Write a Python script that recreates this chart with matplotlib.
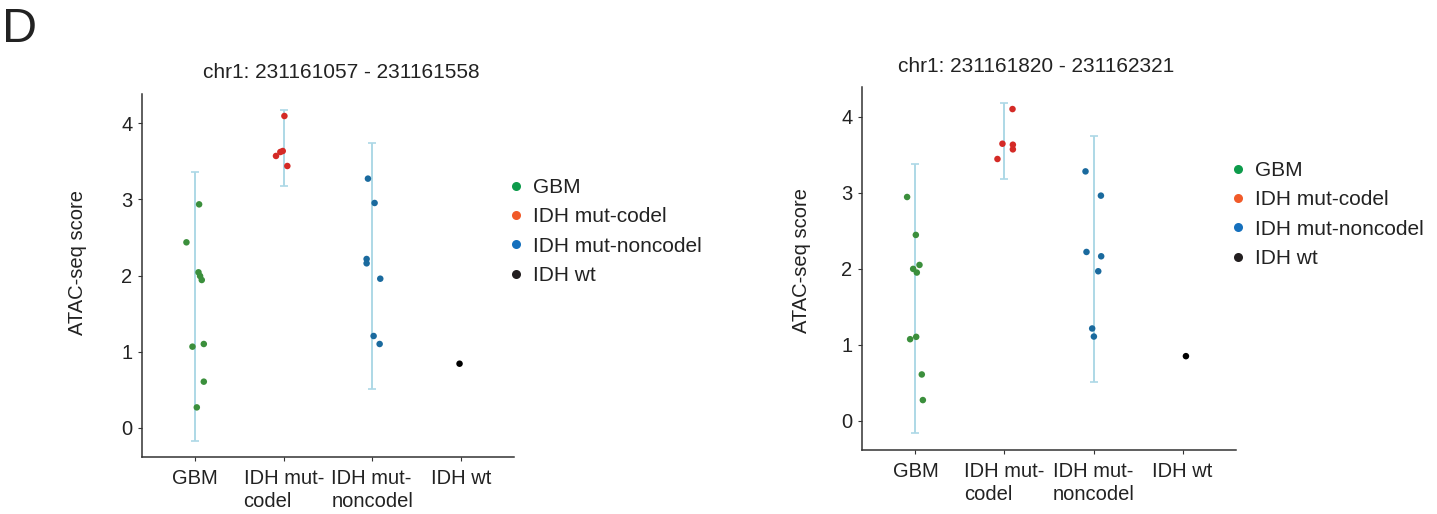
import numpy as np
import matplotlib.pyplot as plt
from matplotlib.lines import Line2D

plt.rcParams['font.family'] = ['Liberation Sans', 'DejaVu Sans']

groups = ['GBM', 'IDH mut-codel', 'IDH mut-noncodel', 'IDH wt']
tick_labels = ['GBM', 'IDH mut-\ncodel', 'IDH mut-\nnoncodel', 'IDH wt']

# ATAC-seq scores per group
left_values = {
    'GBM': [2.935, 2.436, 2.042, 1.993, 1.941, 1.065, 1.100, 0.605, 0.267],
    'IDH mut-codel': [3.571, 3.623, 3.636, 4.096, 3.439],
    'IDH mut-noncodel': [3.273, 2.953, 2.217, 2.160, 1.958, 1.205, 1.100],
    'IDH wt': [0.841],
}
left_jitter = {
    'GBM': [0.045, -0.098, 0.038, 0.056, 0.075, -0.030, 0.098, 0.098, 0.019],
    'IDH mut-codel': [-0.087, -0.038, -0.011, 0.008, 0.041],
    'IDH mut-noncodel': [-0.049, 0.026, -0.064, -0.064, 0.090, 0.015, 0.083],
    'IDH wt': [-0.015],
}
right_values = {
    'GBM': [2.944, 2.445, 2.050, 1.998, 1.950, 1.104, 1.073, 0.609, 0.272],
    'IDH mut-codel': [4.101, 3.645, 3.632, 3.571, 3.444],
    'IDH mut-noncodel': [3.281, 2.962, 2.221, 2.164, 1.967, 1.214, 1.108],
    'IDH wt': [0.850],
}
right_jitter = {
    'GBM': [-0.094, 0.004, 0.045, -0.026, 0.015, 0.008, -0.060, 0.071, 0.083],
    'IDH mut-codel': [0.090, -0.023, 0.094, 0.094, -0.079],
    'IDH mut-noncodel': [-0.090, 0.083, -0.079, 0.086, 0.053, -0.015, 0.004],
    'IDH wt': [0.038],
}

point_colors = ['#3b8f3c', '#d42a26', '#1a6a9e', '#000000']
legend_colors = ['#0d9b4b', '#f15a29', '#1570bd', '#231f20']
axis_col = '#333333'


def draw_panel(ax, values, jitter, ylab_pos):
    for i, g in enumerate(groups):
        v = np.array(values[g])
        x = i + 1 + np.array(jitter[g])
        if len(v) > 1:
            m = v.mean()
            sd = v.std(ddof=1)
            ax.errorbar(i + 1, m, yerr=2 * sd, color='#add8e6', lw=1.4,
                        capsize=3, capthick=1.2, zorder=1)
        ax.scatter(x, v, s=22, color=point_colors[i], edgecolors='none', zorder=3)
    ax.set_xlim(0.4, 4.6)
    ax.set_ylim(-0.385, 4.385)
    ax.set_xticks(range(1, 5))
    ax.set_xticklabels(tick_labels, multialignment='left', linespacing=1.25)
    ax.set_yticks([0, 1, 2, 3, 4])
    for s in ['top', 'right']:
        ax.spines[s].set_visible(False)
    for s in ['left', 'bottom']:
        ax.spines[s].set_color(axis_col)
        ax.spines[s].set_linewidth(1.1)
    ax.tick_params(axis='both', length=3, width=0.8, color=axis_col,
                   labelsize=14.5, labelcolor='#222222', pad=4)
    ax.tick_params(axis='x', pad=5.5)
    ax.set_ylabel('ATAC-seq score', fontsize=14.5, color='#222222')
    ax.yaxis.set_label_coords(*ylab_pos)


fig = plt.figure(figsize=(14.37, 5.14), dpi=100)
ax1 = fig.add_axes([0.0988, 0.1109, 0.2589, 0.7062])
ax2 = fig.add_axes([0.5999, 0.1245, 0.2602, 0.7053])

draw_panel(ax1, left_values, left_jitter, (-0.148, 0.537))
draw_panel(ax2, right_values, right_jitter, (-0.137, 0.524))

fig.text(341 / 1437, 1 - 72 / 514, 'chr1: 231161057 - 231161558',
         ha='center', va='center', fontsize=15, color='#222222')
fig.text(1036 / 1437, 1 - 66 / 514, 'chr1: 231161820 - 231162321',
         ha='center', va='center', fontsize=15, color='#222222')
fig.text(2 / 1437, 1 - 30 / 514, 'D', ha='left', va='center',
         fontsize=35, color='#222222')

handles = [Line2D([], [], ls='none', marker='o', markersize=6.5,
                  markerfacecolor=c, markeredgecolor='none') for c in legend_colors]
for x0, y0 in [(506 / 1437, 1 - 231.5 / 514), (1228 / 1437, 1 - 214.5 / 514)]:
    fig.legend(handles, groups, loc='center left', bbox_to_anchor=(x0, y0),
               frameon=False, fontsize=15, handlelength=1.0, handletextpad=0.3,
               labelspacing=0.5, borderpad=0, borderaxespad=0,
               labelcolor='#222222')

fig.savefig('out.png', dpi=100)
